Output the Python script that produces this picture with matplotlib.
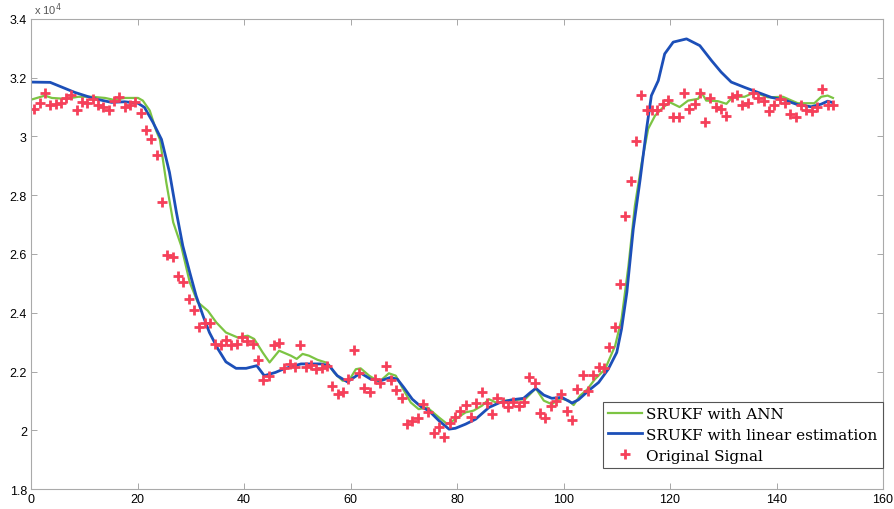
import numpy as np
import matplotlib.pyplot as plt

# original signal, one sample per step (values in units of 1e4)
t_sig = np.arange(151) + 0.6
sig = [3.094, 3.113, 3.148, 3.108, 3.110, 3.113, 3.131, 3.140, 3.091, 3.116,
       3.113, 3.128, 3.107, 3.099, 3.090, 3.122, 3.133, 3.099, 3.106, 3.116,
       3.079, 3.023, 2.990, 2.937, 2.776, 2.597, 2.589, 2.526, 2.504, 2.447,
       2.409, 2.350, 2.364, 2.364, 2.294, 2.291, 2.306, 2.291, 2.294, 2.317,
       2.304, 2.295, 2.240, 2.172, 2.184, 2.291, 2.297, 2.212, 2.225, 2.216,
       2.291, 2.216, 2.222, 2.208, 2.211, 2.220, 2.152, 2.122, 2.131, 2.174,
       2.274, 2.195, 2.143, 2.129, 2.174, 2.161, 2.218, 2.172, 2.138, 2.109,
       2.023, 2.032, 2.042, 2.089, 2.063, 1.990, 2.012, 1.979, 2.025, 2.047,
       2.067, 2.086, 2.044, 2.093, 2.131, 2.093, 2.055, 2.109, 2.097, 2.081,
       2.097, 2.084, 2.097, 2.180, 2.161, 2.059, 2.041, 2.084, 2.101, 2.123,
       2.067, 2.035, 2.139, 2.187, 2.133, 2.188, 2.214, 2.211, 2.282, 2.350,
       2.498, 2.728, 2.849, 2.986, 3.141, 3.090, 3.091, 3.091, 3.112, 3.123,
       3.066, 3.067, 3.147, 3.093, 3.111, 3.147, 3.048, 3.131, 3.101, 3.094,
       3.071, 3.133, 3.141, 3.107, 3.113, 3.149, 3.131, 3.120, 3.086, 3.108,
       3.128, 3.115, 3.077, 3.065, 3.108, 3.090, 3.086, 3.101, 3.161, 3.107,
       3.107]

# SRUKF with linear estimation
t_lin = [0, 3.6, 8.2, 12, 15.1, 17.6, 20.1, 21.3, 22.9, 24.5, 26, 27.3, 28.5,
         29.8, 31, 32.3, 33.5, 35.1, 36.6, 38.5, 40.4, 42.4, 43.8, 45.9, 47.6,
         50.7, 54.4, 56, 57.5, 59.4, 61.9, 63.8, 65.7, 67.5, 68.8, 70, 71.6,
         73.2, 74.7, 76.6, 78.5, 79.7, 81.6, 83.5, 86, 88.1, 90.3, 92.5, 93.8,
         94.8, 96.3, 97.8, 99.7, 101.6, 102.8, 104.7, 106.6, 108.4, 110, 110.9,
         111.9, 113.1, 114.4, 115.6, 116.5, 117.8, 119, 120.6, 123.1, 125.6,
         127.8, 129.6, 131.5, 134, 136.5, 139, 141.5, 144, 146.5, 148.4, 149.6,
         150.4]
lin = [3.185, 3.184, 3.150, 3.128, 3.116, 3.118, 3.113, 3.099, 3.048, 2.990,
       2.878, 2.742, 2.628, 2.538, 2.458, 2.390, 2.333, 2.277, 2.233, 2.211,
       2.211, 2.220, 2.186, 2.197, 2.210, 2.226, 2.226, 2.220, 2.186, 2.165,
       2.195, 2.174, 2.169, 2.180, 2.174, 2.146, 2.106, 2.081, 2.067, 2.033,
       2.004, 2.007, 2.021, 2.038, 2.078, 2.095, 2.104, 2.109, 2.129, 2.143,
       2.120, 2.109, 2.112, 2.093, 2.104, 2.135, 2.163, 2.208, 2.265, 2.345,
       2.470, 2.685, 2.855, 3.026, 3.139, 3.190, 3.281, 3.321, 3.332, 3.309,
       3.258, 3.219, 3.185, 3.167, 3.150, 3.133, 3.124, 3.108, 3.101, 3.110,
       3.120, 3.116]

# SRUKF with ANN
t_ann = [0, 2.6, 3.9, 6.4, 8.9, 11.4, 13.9, 15.7, 17.6, 20.1, 21, 22.3, 23.5,
         24.2, 25.4, 26.7, 28.2, 29.8, 31.3, 33.2, 34.8, 36.6, 38.8, 40.7,
         41.9, 43.5, 44.8, 46.6, 48.8, 49.9, 51, 52.2, 53.8, 55.7, 56.9, 58.5,
         59.7, 61, 61.9, 63.5, 65.4, 67.2, 68.5, 69.7, 71.3, 72.8, 74.4, 76.6,
         78.2, 79.7, 81.6, 83.1, 84.7, 86, 87.5, 89.1, 91.3, 92.8, 94.8, 96.3,
         97.8, 99.4, 101, 101.9, 103.1, 104.4, 105.9, 107.8, 109.7, 110.9,
         112.2, 113.4, 114.7, 115.9, 117.2, 118.7, 120, 121.8, 123.4, 125.3,
         125.9, 126.8, 129, 130.6, 131.8, 134, 135.9, 138.4, 141.2, 144, 147.1,
         148.4, 149.6, 150.6]
ann = [3.125, 3.139, 3.131, 3.128, 3.135, 3.135, 3.131, 3.124, 3.131, 3.131,
       3.122, 3.088, 3.020, 2.990, 2.844, 2.708, 2.628, 2.504, 2.436, 2.407,
       2.367, 2.333, 2.316, 2.322, 2.311, 2.265, 2.231, 2.271, 2.254, 2.243,
       2.260, 2.254, 2.240, 2.229, 2.197, 2.169, 2.169, 2.208, 2.211, 2.186,
       2.165, 2.194, 2.186, 2.146, 2.095, 2.072, 2.078, 2.044, 2.021, 2.038,
       2.061, 2.067, 2.084, 2.106, 2.093, 2.101, 2.104, 2.106, 2.143, 2.101,
       2.089, 2.109, 2.101, 2.086, 2.118, 2.138, 2.174, 2.208, 2.288, 2.379,
       2.560, 2.764, 2.912, 3.026, 3.071, 3.099, 3.116, 3.100, 3.122, 3.128,
       3.150, 3.122, 3.120, 3.111, 3.135, 3.135, 3.150, 3.133, 3.135, 3.113,
       3.113, 3.135, 3.139, 3.131]

xticks = [0, 20, 40, 60, 80, 100, 120, 140, 160]
yticks = [1.8, 2, 2.2, 2.4, 2.6, 2.8, 3, 3.2, 3.4]

plt.rcParams['font.family'] = ['Liberation Sans', 'DejaVu Sans']

fig = plt.figure(figsize=(8.94, 5.10), dpi=100)
ax = fig.add_axes([0.0347, 0.039, 0.953, 0.922])

ax.plot(t_ann, ann, color='#7cc443', lw=1.6, label='SRUKF with ANN')
ax.plot(t_lin, lin, color='#1c4fb8', lw=2.0, label='SRUKF with linear estimation')
ax.plot(t_sig, sig, ls='none', marker='+', ms=7, mew=2.0, color='#f5405a',
        label='Original Signal')

ax.set_xlim(0, 160)
ax.set_ylim(1.8, 3.4)
ax.set_xticks(xticks)
ax.set_yticks(yticks)
ax.set_yticklabels(['1.8', '2', '2.2', '2.4', '2.6', '2.8', '3', '3.2', '3.4'])
ax.tick_params(direction='in', top=True, right=True, length=4, width=0.6,
               color='#999999', labelsize=9, pad=3)
for s in ax.spines.values():
    s.set_color('#aaaaaa')
    s.set_linewidth(0.8)

fig.text(0.038, 0.998, r'x 10$^4$', fontsize=8, va='top', ha='left',
         color='#555555')

leg = ax.legend(loc='lower right', bbox_to_anchor=(1.0, 0.045),
                borderaxespad=0,
                prop={'family': 'DejaVu Serif', 'size': 11},
                fancybox=False, framealpha=1, edgecolor='#555555',
                handlelength=2.2, handletextpad=0.3, borderpad=0.35,
                labelspacing=0.45, numpoints=1)
leg.get_frame().set_linewidth(0.8)

fig.savefig('out.png', dpi=100)
